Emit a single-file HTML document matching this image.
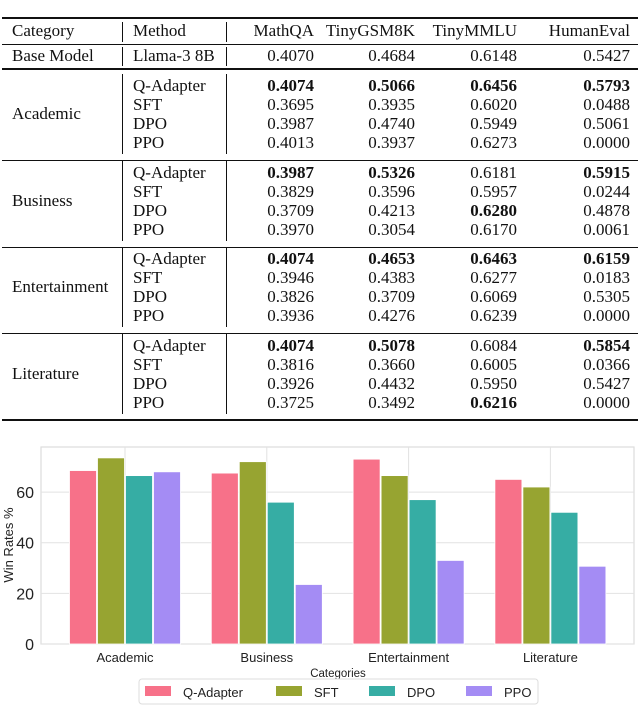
<!DOCTYPE html>
<html><head><meta charset="utf-8">
<style>
body{margin:0;width:640px;height:706px;background:#fff;overflow:hidden;position:relative;font-family:"Liberation Serif",serif;}
#tbl{position:absolute;left:0;top:0;width:640px;height:430px;}
.t{position:absolute;font-size:17px;line-height:18px;white-space:nowrap;color:#111;}
.b{font-weight:bold;}
.rule{position:absolute;left:2px;width:636px;background:#111;}
.vl{position:absolute;width:1px;background:#111;}
</style></head>
<body>
<div id="tbl"></div>
<svg id="chart" width="640" height="706" style="position:absolute;left:0;top:0" font-family="Liberation Sans, sans-serif"></svg>
<script>
const tbl=document.getElementById('tbl');
function txt(s,x,y,cls,right){const d=document.createElement('div');d.className='t '+(cls||'');d.textContent=s;
 if(right){d.style.right=(640-x)+'px';}else d.style.left=x+'px';d.style.top=(y-9)+'px';
 
 
 tbl.appendChild(d);}
function rule(y,h){const d=document.createElement('div');d.className='rule';d.style.top=y+'px';d.style.height=h+'px';
 
 
 tbl.appendChild(d);}
function vl(x,y1,y2){const d=document.createElement('div');d.className='vl';d.style.left=x+'px';d.style.top=y1+'px';d.style.height=(y2-y1)+'px';
 
 
 tbl.appendChild(d);}
const colR=[314,415,517,630];
txt('Category',12,31);txt('Method',133,31);
['MathQA','TinyGSM8K','TinyMMLU','HumanEval'].forEach((h,i)=>txt(h,colR[i],31,'',true));
txt('Base Model',12,56);txt('Llama-3 8B',133,56);
['0.4070','0.4684','0.6148','0.5427'].forEach((v,i)=>txt(v,colR[i],56,'',true));
rule(17,2);rule(44,1);rule(68,2);rule(419,2);
vl(122,22,42);vl(226,22,42);vl(122,47,66);vl(226,47,66);
const groups=[
 ['Academic',[['Q-Adapter','0.4074','0.5066','0.6456','0.5793',[1,1,1,1]],['SFT','0.3695','0.3935','0.6020','0.0488'],['DPO','0.3987','0.4740','0.5949','0.5061'],['PPO','0.4013','0.3937','0.6273','0.0000']]],
 ['Business',[['Q-Adapter','0.3987','0.5326','0.6181','0.5915',[1,1,0,1]],['SFT','0.3829','0.3596','0.5957','0.0244'],['DPO','0.3709','0.4213','0.6280','0.4878',[0,0,1,0]],['PPO','0.3970','0.3054','0.6170','0.0061']]],
 ['Entertainment',[['Q-Adapter','0.4074','0.4653','0.6463','0.6159',[1,1,1,1]],['SFT','0.3946','0.4383','0.6277','0.0183'],['DPO','0.3826','0.3709','0.6069','0.5305'],['PPO','0.3936','0.4276','0.6239','0.0000']]],
 ['Literature',[['Q-Adapter','0.4074','0.5078','0.6084','0.5854',[1,1,0,1]],['SFT','0.3816','0.3660','0.6005','0.0366'],['DPO','0.3926','0.4432','0.5950','0.5427'],['PPO','0.3725','0.3492','0.6216','0.0000',[0,0,1,0]]]]
];
groups.forEach((g,gi)=>{
 const y0=86+gi*86.7;
 txt(g[0],12,y0+28);
 g[1].forEach((row,ri)=>{const y=y0+ri*19;txt(row[0],133,y);
  for(let c=0;c<4;c++)txt(row[c+1],colR[c],y,(row[5]&&row[5][c])?'b':'',true);});
 vl(122,y0-12,y0+68);vl(226,y0-12,y0+68);
 if(gi<3)rule(y0+74,1);
});

// chart
const categories=['Academic','Business','Entertainment','Literature'];
const methods=['Q-Adapter','SFT','DPO','PPO'];
const qAdapter=[68.5,67.5,73,65];
const sft=[73.5,72,66.5,62];
const dpo=[66.5,56,57,52];
const ppo=[68,23.5,33,30.7];
const yTicks=[0,20,40,60];
const series=[qAdapter,sft,dpo,ppo];
const colors=['#f77189','#97a431','#36ada4','#a48cf4'];
const svg=document.getElementById('chart');const NS='http://www.w3.org/2000/svg';
const L=41,R=634,T=447,B=644,yMax=77.8;
const yS=v=>B-(v/yMax)*(B-T);
const c0=125,step=141.8;
const xC=i=>c0+step*i;
const bw=28;
function el(tag,a,p){const e=document.createElementNS(NS,tag);for(const k in a)e.setAttribute(k,a[k]);(p||svg).appendChild(e);return e;}
let r=el('rect',{x:L,y:T,width:R-L,height:B-T,fill:'#fff',stroke:'#ddd','stroke-width':1.2});

yTicks.forEach(t=>{let g=el('line',{x1:L,x2:R,y1:yS(t),y2:yS(t),stroke:'#e2e2e2'});
 
 let tx=el('text',{x:L-7,y:yS(t)+6,'text-anchor':'end','font-size':16,fill:'#222'});tx.textContent=t;
 });
categories.forEach((c,i)=>{let g=el('line',{x1:xC(i),x2:xC(i),y1:T,y2:B,stroke:'#e2e2e2'});
 });
series.forEach((s,si)=>{s.forEach((v,i)=>{const x=xC(i)-2*bw+si*bw;
 let b=el('rect',{x:x+0.5,y:yS(v),width:bw-1,height:B-yS(v),fill:colors[si],stroke:'#fff','stroke-width':0.8});
 
 });});
categories.forEach((c,i)=>{let t=el('text',{x:xC(i),y:662,'text-anchor':'middle','font-size':13,fill:'#222'});t.textContent=c;
 });
let xt=el('text',{x:338,y:677,'text-anchor':'middle','font-size':11.5,fill:'#222'});xt.textContent='Categories';

let yt=el('text',{x:13,y:545,'text-anchor':'middle','font-size':13,fill:'#222',transform:'rotate(-90 13 545)'});yt.textContent='Win Rates %';

let lb=el('rect',{x:139,y:679,width:399,height:25,rx:3,fill:'#fff',stroke:'#ddd'});

const lx=[145,276,369,466];
methods.forEach((m,i)=>{let sw=el('rect',{x:lx[i],y:686,width:26,height:10,fill:colors[i]});
 
 let t=el('text',{x:lx[i]+38,y:697,'font-size':13,fill:'#222'});t.textContent=m;
 });
</script>
</body></html>
